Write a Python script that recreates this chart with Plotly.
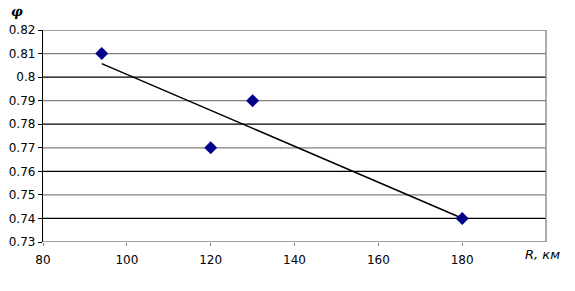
import numpy as np
import plotly.graph_objects as go

# Data
R_km = [94, 120, 130, 180]
phi = [0.81, 0.77, 0.79, 0.74]

x_ticks = [80, 100, 120, 140, 160, 180]
y_ticks = [0.73, 0.74, 0.75, 0.76, 0.77, 0.78, 0.79, 0.8, 0.81, 0.82]
y_tick_text = ["0.73", "0.74", "0.75", "0.76", "0.77", "0.78", "0.79", "0.8", "0.81", "0.82"]

# Linear trend
slope, intercept = np.polyfit(R_km, phi, 1)
trend_x = [min(R_km), max(R_km)]
trend_y = [slope * v + intercept for v in trend_x]

fig = go.Figure()

fig.add_trace(go.Scatter(x=trend_x, y=trend_y, mode="lines",
                         line=dict(color="black", width=1.5),
                         hoverinfo="skip", showlegend=False))
fig.add_trace(go.Scatter(x=R_km, y=phi, mode="markers",
                         marker=dict(symbol="diamond", size=10, color="#00008B",
                                     line=dict(width=0)),
                         showlegend=False))

# Gridlines alternating grey/black
shapes = []
for i, yv in enumerate(y_ticks):
    col = "#808080" if i % 2 == 0 else "black"
    if yv == 0.82:
        col = "#808080"
    shapes.append(dict(type="line", xref="paper", x0=0, x1=1, yref="y", y0=yv, y1=yv,
                       line=dict(color=col, width=1.3), layer="below"))
shapes.append(dict(type="line", xref="paper", x0=1, x1=1, yref="paper", y0=0, y1=1,
                   line=dict(color="#808080", width=1.3), layer="below"))
fig.update_layout(shapes=shapes)

FONT = "DejaVu Sans, Arial"
fig.update_xaxes(range=[80, 200], tickvals=x_ticks, ticktext=[str(v) for v in x_ticks],
                 showgrid=False, zeroline=False, showline=False, automargin=False,
                 ticks="outside", ticklen=3, tickcolor="#808080", ticklabelstandoff=4,
                 tickfont=dict(family=FONT, size=12, color="black"))
fig.update_yaxes(range=[0.73, 0.82], tickvals=y_ticks, ticktext=y_tick_text, automargin=False,
                 showgrid=False, zeroline=False, showline=True, linecolor="black", linewidth=1.3,
                 ticks="outside", ticklen=4, tickcolor="black",
                 tickfont=dict(family=FONT, size=12, color="black"))

fig.add_annotation(text="<i>R, км</i>", xref="paper", yref="paper", x=1.0, y=0, xanchor="center",
                   yanchor="middle", yshift=-12, xshift=-4, showarrow=False,
                   font=dict(family=FONT, size=13, color="black"))
fig.add_annotation(text="<b><i>φ</i></b>", xref="paper", yref="paper", x=0, y=1, xanchor="center",
                   yanchor="middle", xshift=-26, yshift=19, showarrow=False,
                   font=dict(family="DejaVu Serif, Liberation Serif", size=13, color="black"))

fig.update_layout(width=575, height=291, margin=dict(l=43, r=29, t=30, b=49),
                  plot_bgcolor="white", paper_bgcolor="white")

fig.write_html("out.html", config={"displayModeBar": False},
               post_script="document.body.style.margin='0';")
